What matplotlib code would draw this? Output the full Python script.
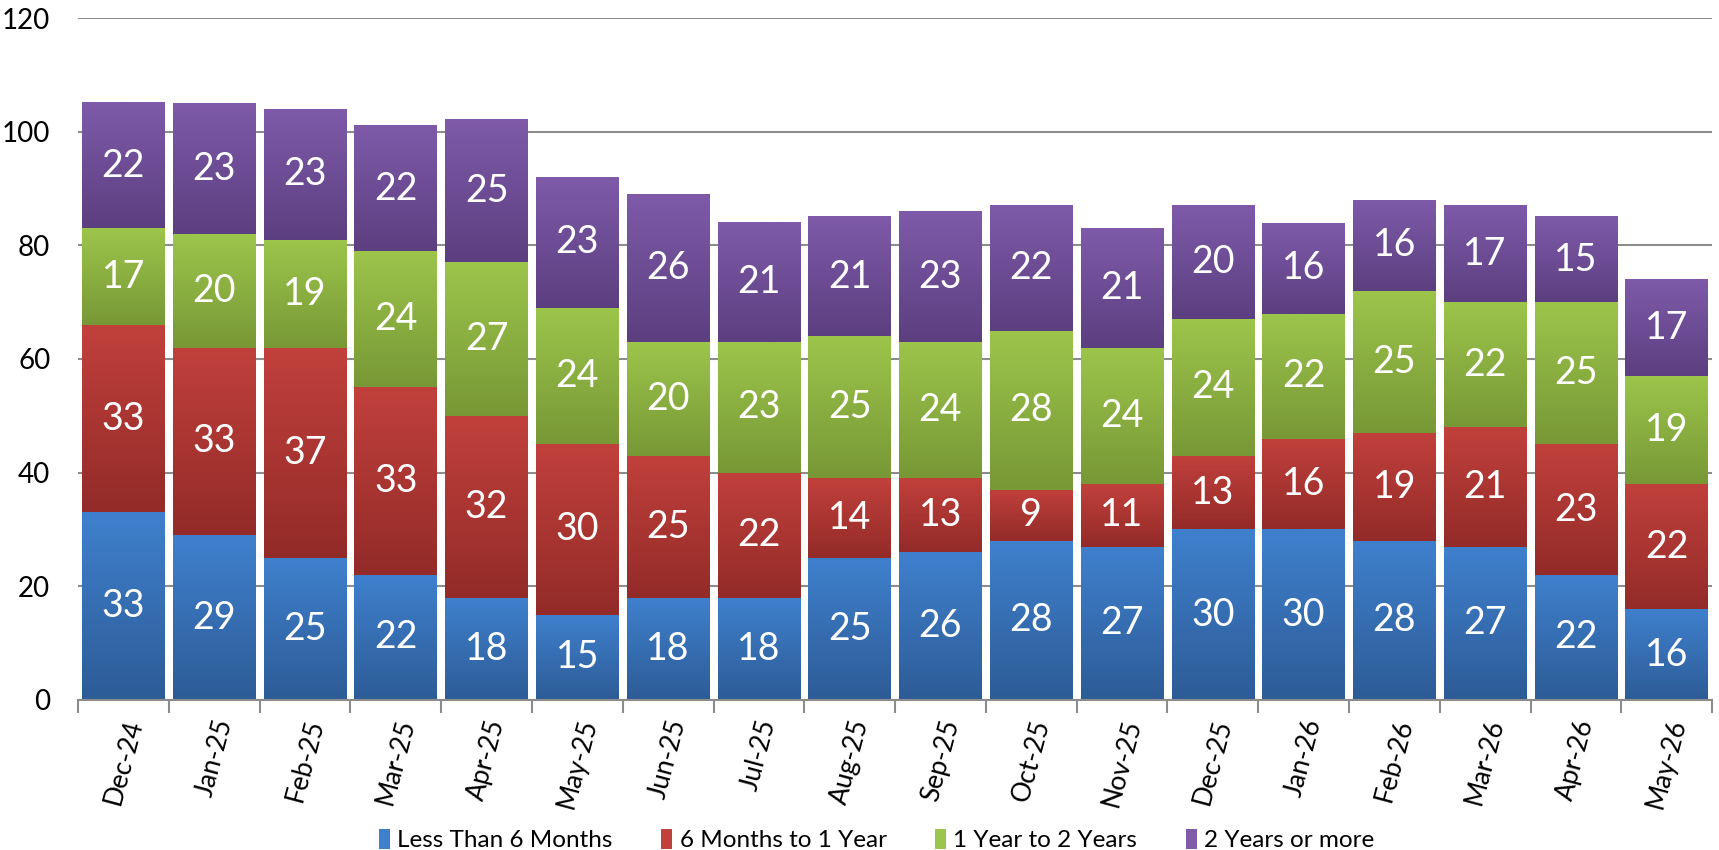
import matplotlib.pyplot as plt
import numpy as np
from matplotlib.colors import LinearSegmentedColormap
from matplotlib.patches import Patch

plt.rcParams['font.family'] = ['Lato', 'DejaVu Sans']

# Data
months = ['Dec-24', 'Jan-25', 'Feb-25', 'Mar-25', 'Apr-25', 'May-25', 'Jun-25', 'Jul-25', 'Aug-25',
          'Sep-25', 'Oct-25', 'Nov-25', 'Dec-25', 'Jan-26', 'Feb-26', 'Mar-26', 'Apr-26', 'May-26']
less_6m = [33, 29, 25, 22, 18, 15, 18, 18, 25, 26, 28, 27, 30, 30, 28, 27, 22, 16]
m6_to_1y = [33, 33, 37, 33, 32, 30, 25, 22, 14, 13, 9, 11, 13, 16, 19, 21, 23, 22]
y1_to_2y = [17, 20, 19, 24, 27, 24, 20, 23, 25, 24, 28, 24, 24, 22, 25, 22, 25, 19]
y2_plus = [22, 23, 23, 22, 25, 23, 26, 21, 21, 23, 22, 21, 20, 16, 16, 17, 15, 17]

series = [('Less Than 6 Months', less_6m, '#3F80CD', '#2D5C97'),
          ('6 Months to 1 Year', m6_to_1y, '#C1403C', '#932B28'),
          ('1 Year to 2 Years', y1_to_2y, '#9CC54B', '#789836'),
          ('2 Years or more', y2_plus, '#7E5AA9', '#5C3F80')]

fig = plt.figure(figsize=(17.19, 8.5), dpi=100)
ax = fig.add_axes([0.0454, 0.1765, 0.9506, 0.8023])

x = np.arange(len(months))
width = 0.91
bottom = np.zeros(len(months))
grad = np.linspace(1, 0, 64).reshape(-1, 1)

handles = []
for name, vals, top_c, bot_c in series:
    vals = np.array(vals)
    cmap = LinearSegmentedColormap.from_list(name, [bot_c, top_c])
    bars = ax.bar(x, vals, width, bottom=bottom, color=top_c, zorder=2)
    for b, v in zip(bars, vals):
        bx, by = b.get_x(), b.get_y()
        ax.imshow(grad, cmap=cmap, aspect='auto', zorder=2.5, vmin=0, vmax=1,
                  extent=[bx, bx + b.get_width(), by, by + b.get_height()])
        ax.text(bx + b.get_width() / 2, by + b.get_height() / 2, str(v), color='white',
                ha='center', va='center', fontsize=27, zorder=4)
    bottom = bottom + vals
    handles.append(Patch(facecolor=top_c, label=name))

ax.set_xlim(-0.5, len(months) - 0.5)
ax.set_ylim(0, 120)
ax.set_yticks(range(0, 121, 20))
ax.yaxis.grid(True, color='#8c8c8c', linewidth=1.5, zorder=0)
ax.set_axisbelow(True)
for s in ['top', 'right', 'left']:
    ax.spines[s].set_visible(False)
ax.spines['bottom'].set_color('#8c8c8c')
ax.spines['bottom'].set_linewidth(1.5)
ax.tick_params(axis='y', length=0, labelsize=20, pad=20)

ax.set_xticks(x)
ax.set_xticklabels(months, rotation=75, fontsize=19, ha='center', va='top')
ax.tick_params(axis='x', length=0, pad=12)
ax.set_xticks(np.arange(-0.5, len(months)), minor=True)
ax.tick_params(axis='x', which='minor', length=9, width=1.5, color='#8c8c8c')

fig.legend(handles=handles, loc='lower center', ncol=4, frameon=False, fontsize=17.5,
           bbox_to_anchor=(0.51, -0.027), handlelength=0.45, handleheight=0.9,
           handletextpad=0.3, columnspacing=2.0)

fig.savefig('out.png', dpi=100)
